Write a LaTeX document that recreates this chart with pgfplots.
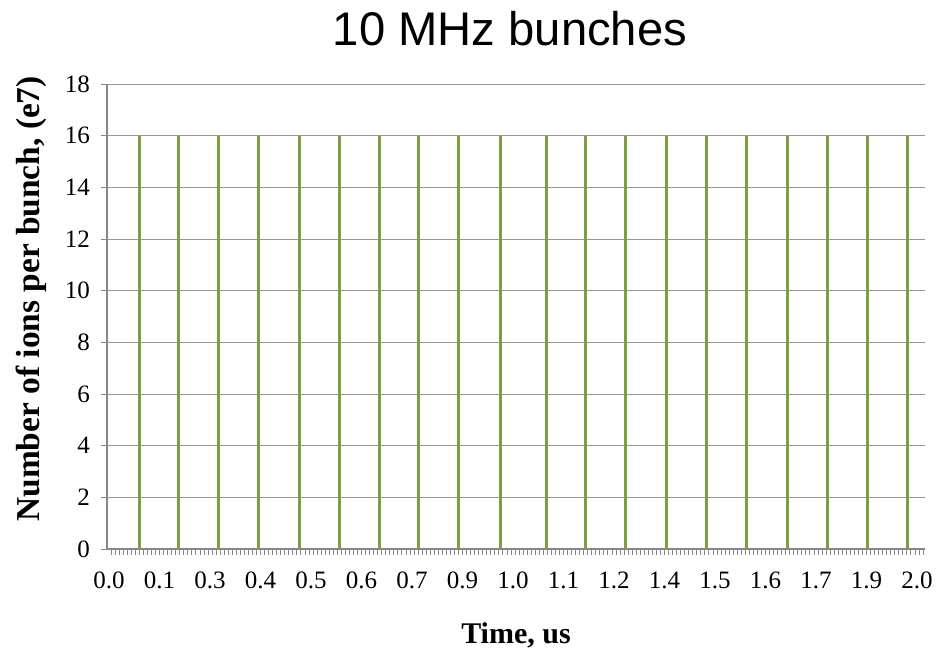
\documentclass[border=0pt]{standalone}
\usepackage{fontspec}
\usepackage{pgfplots}
\pgfplotsset{compat=1.18}
\setmainfont{Liberation Serif}
\newfontfamily\arialfont{Liberation Sans}
\definecolor{bargreen}{RGB}{125,158,68}
\definecolor{gridgray}{RGB}{150,150,150}
\definecolor{axisgray}{RGB}{135,135,135}
\begin{document}
\begin{tikzpicture}
\path[use as bounding box] (-53.5pt,-50.5pt) rectangle (418.5pt,274.5pt);
\begin{axis}[
  at={(0pt,0pt)}, anchor=south west,
  scale only axis,
  width=409pt, height=232.5pt,
  xmin=-0.005, xmax=2.02,
  ymin=0, ymax=18,
  axis lines=left,
  axis line style={-, draw=axisgray, line width=0.6pt},
  ytick={0,2,...,18},
  ymajorgrids,
  grid style={draw=gridgray, line width=0.5pt},
  xtick={0,0.125,0.25,0.375,0.5,0.625,0.75,0.875,1.0,1.125,1.25,1.375,1.5,1.625,1.75,1.875,2.0},
  xticklabels={0.0,0.1,0.3,0.4,0.5,0.6,0.7,0.9,1.0,1.1,1.2,1.4,1.5,1.6,1.7,1.9,2.0},
  minor xtick={0.005,0.015,...,2.016},
  tick align=outside,
  major tick length=3pt,
  minor tick length=3pt,
  major x tick style={draw=none},
  minor x tick style={draw=axisgray, line width=0.4pt},
  major y tick style={draw=axisgray, line width=0.5pt},
  /pgf/number format/assume math mode=true,
  ticklabel style={font=\fontsize{12.5}{14}\selectfont},
  xticklabel style={yshift=-5pt},
  yticklabel style={xshift=-2pt},
  xlabel={\textbf{Time, us}},
  xlabel style={font=\fontsize{15}{17}\selectfont, yshift=-10pt},
  ylabel={\textbf{Number of ions per bunch, (e7)}},
  ylabel style={font=\fontsize{16.7}{18}\selectfont, at={(axis description cs:-0.093,0.538)}, anchor=center},
  clip=false,
]
\addplot[ycomb, no marks, draw=bargreen, line width=1.5pt] coordinates {
(0.075,16) (0.173,16) (0.272,16) (0.371,16) (0.471,16) (0.570,16) (0.669,16) (0.767,16) (0.866,16) (0.970,16)
(1.082,16) (1.180,16) (1.279,16) (1.379,16) (1.478,16) (1.578,16) (1.680,16) (1.779,16) (1.878,16) (1.977,16)
};
\end{axis}
\node[font=\arialfont\fontsize{23.6}{26}\selectfont, anchor=center] at (201.5pt,260pt) {10 MHz bunches};
\end{tikzpicture}
\end{document}
